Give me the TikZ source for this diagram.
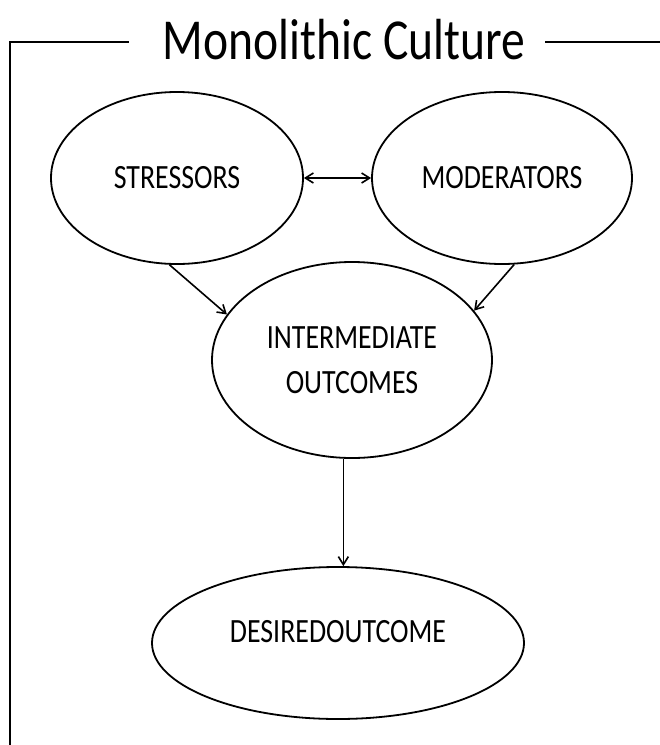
\documentclass[tikz,border=0pt]{standalone}
\usepackage{fontspec}
\setmainfont[FakeStretch=0.82]{Carlito}
\usetikzlibrary{arrows.meta,shapes.geometric,positioning}
\tikzset{
  frame/.style={line width=2pt},
  oval/.style={ellipse, draw, line width=1.8pt, inner sep=0pt, font=\fontsize{34}{45}\selectfont, align=center},
  link/.style={-{Straight Barb[length=8pt, width=10pt]}, line width=1.6pt},
  both link/.style={{Straight Barb[length=8pt, width=10pt]}-{Straight Barb[length=8pt, width=10pt]}, line width=1.6pt},
}

\begin{document}
\begin{tikzpicture}[x=1pt, y=-1pt]
  \useasboundingbox (0,0) rectangle (660,745);

  % Title and frame
  \node[font=\fontsize{58}{62}\selectfont, inner xsep=0pt] (title) at (344,40) {Monolithic Culture};
  \draw[frame] ([xshift=-34pt]title.west |- 0,42) -- (10,42) -- (10,760);
  \draw[frame] ([xshift=20pt]title.east |- 0,42) -- (670,42);

  % Ovals
  \node[oval, minimum width=252pt, minimum height=172pt] (stress) at (177,178) {STRESSORS};
  \node[oval, minimum width=260pt, minimum height=172pt] (moder) at (502,178) {MODERATORS};
  \node[oval, minimum width=280pt, minimum height=196pt] (inter) at (352,360) {INTERMEDIATE\\OUTCOMES};
  \node[oval, minimum width=372pt, minimum height=152pt, text depth=24pt] (desired) at (338,643) {DESIREDOUTCOME};

  % Arrows
  \draw[both link] (stress.east) -- (moder.west);
  \draw[link] (stress.265) -- (inter.160);
  \draw[link] (moder.278) -- (inter.22);
  \draw[link] (inter.265) -- (inter.265 |- desired.north);
\end{tikzpicture}
\end{document}
